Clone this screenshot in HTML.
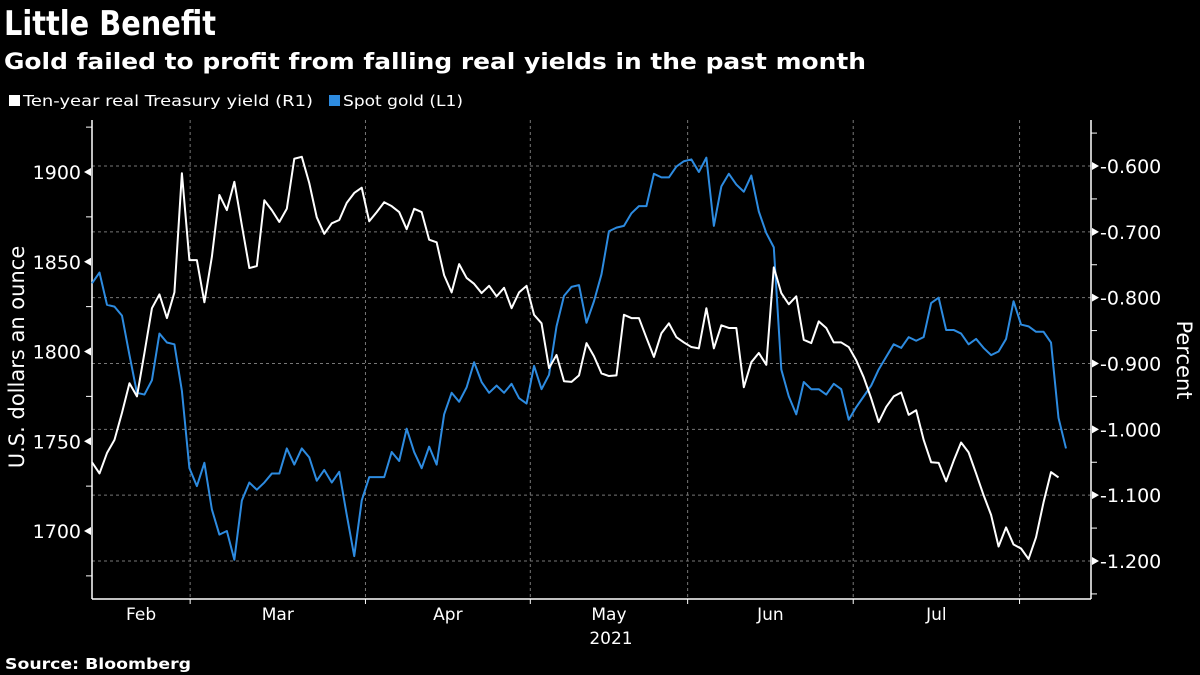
<!DOCTYPE html>
<html><head><meta charset="utf-8"><style>
html,body{margin:0;padding:0;background:#000;}
svg{display:block;font-family:"DejaVu Sans","Liberation Sans",sans-serif;}
</style></head><body>
<svg id="chart" width="1200" height="675" viewBox="0 0 1200 675">
<rect width="1200" height="675" fill="#000"/>
<text x="4" y="35" fill="#fff" font-weight="bold" font-size="34" textLength="212" lengthAdjust="spacingAndGlyphs">Little Benefit</text>
<text x="4" y="69" fill="#fff" font-weight="bold" font-size="22" textLength="862" lengthAdjust="spacingAndGlyphs">Gold failed to profit from falling real yields in the past month</text>
<g>
<g><rect x="9" y="95" width="11" height="11" fill="#fff"/><text x="23" y="106" fill="#fff" font-size="15" textLength="290" lengthAdjust="spacingAndGlyphs">Ten-year real Treasury yield (R1)</text></g>
<g><rect x="329" y="95" width="11" height="11" fill="#2d8be0"/><text x="343" y="106" fill="#fff" font-size="15" textLength="120" lengthAdjust="spacingAndGlyphs">Spot gold (L1)</text></g>
</g>
<g id="grid"></g>
<g id="axes"></g>
<g id="series"></g>
<text transform="translate(24,357) rotate(-90)" text-anchor="middle" fill="#fff" font-size="21">U.S. dollars an ounce</text>
<text transform="translate(1177,360) rotate(90)" text-anchor="middle" fill="#fff" font-size="21">Percent</text>
<text x="611" y="644" text-anchor="middle" fill="#fff" font-size="17">2021</text>
<text x="5" y="669" fill="#fff" font-weight="bold" font-size="15" textLength="186" lengthAdjust="spacingAndGlyphs">Source: Bloomberg</text>
</svg>
<script>
const goldValues=[1838,1844,1826,1825,1820,1798,1777,1776,1784,1810,1805,1804,1778,1735,1725,1738,1712,1698,1700,1684,1717,1727,1723,1727,1732,1732,1746,1737,1746,1741,1728,1734,1727,1733,1709,1686,1717,1730,1730,1730,1744,1739,1757,1744,1735,1747,1737,1765,1777,1772,1780,1794,1783,1777,1781,1777,1782,1774,1771,1792,1779,1787,1814,1831,1836,1837,1816,1828,1843,1867,1869,1870,1877,1881,1881,1899,1897,1897,1903,1906,1907,1900,1908,1870,1892,1899,1893,1889,1898,1878,1866,1858,1790,1775,1765,1783,1779,1779,1776,1782,1779,1762,1769,1775,1781,1790,1797,1804,1802,1808,1806,1808,1827,1830,1812,1812,1810,1804,1807,1802,1798,1800,1807,1828,1815,1814,1811,1811,1805,1763,1746];
const yieldValues=[-1.050,-1.067,-1.036,-1.016,-0.975,-0.930,-0.950,-0.884,-0.816,-0.795,-0.831,-0.792,-0.611,-0.743,-0.743,-0.807,-0.738,-0.644,-0.667,-0.624,-0.690,-0.755,-0.752,-0.652,-0.667,-0.685,-0.665,-0.589,-0.586,-0.626,-0.678,-0.703,-0.687,-0.682,-0.656,-0.641,-0.633,-0.684,-0.670,-0.655,-0.661,-0.670,-0.696,-0.665,-0.670,-0.712,-0.716,-0.766,-0.792,-0.749,-0.770,-0.779,-0.793,-0.782,-0.798,-0.785,-0.816,-0.792,-0.782,-0.826,-0.839,-0.907,-0.887,-0.927,-0.928,-0.918,-0.869,-0.889,-0.915,-0.919,-0.918,-0.826,-0.831,-0.831,-0.861,-0.890,-0.854,-0.839,-0.860,-0.868,-0.875,-0.877,-0.816,-0.877,-0.842,-0.846,-0.846,-0.936,-0.898,-0.884,-0.902,-0.754,-0.793,-0.810,-0.798,-0.864,-0.869,-0.836,-0.846,-0.868,-0.868,-0.875,-0.895,-0.921,-0.953,-0.989,-0.966,-0.950,-0.944,-0.978,-0.971,-1.016,-1.050,-1.051,-1.079,-1.048,-1.020,-1.035,-1.067,-1.100,-1.130,-1.178,-1.149,-1.175,-1.181,-1.197,-1.164,-1.111,-1.065,-1.073];
const leftTicks=[1700,1750,1800,1850,1900];
const rightTicks=[-1.2,-1.1,-1.0,-0.9,-0.8,-0.7,-0.6];
const monthLabels=["Feb","Mar","Apr","May","Jun","Jul"];
const monthBoundaryIdx=[-13,13.1,36.5,58.5,79.5,101.6,123.8];

const NS="http://www.w3.org/2000/svg";
const X0=92,X1=1066,YT=120,YB=599;
const nPts=goldValues.length;
function xS(i){return X0+i*(X1-X0)/(nPts-1);}
function yL(v){return 172+(1900-v)*(531-172)/200;}
function yR(v){return 166+(-0.6-v)*(561-166)/0.6;}
function mk(tag,attrs,parent){const e=document.createElementNS(NS,tag);for(const k in attrs)e.setAttribute(k,attrs[k]);parent.appendChild(e);return e;}
const grid=document.getElementById('grid'),axes=document.getElementById('axes'),series=document.getElementById('series');
rightTicks.forEach(v=>{
  const l=mk('line',{x1:X0,x2:1091,y1:yR(v),y2:yR(v),stroke:'#777','stroke-width':1,'stroke-dasharray':'3,3'},grid);
  
  
  const t=mk('text',{x:1100,y:yR(v)+7,fill:'#fff','font-size':19},axes);
  t.textContent=v.toFixed(3);
  
  
  mk('path',{d:`M1092 ${yR(v)-4}L1099 ${yR(v)}L1092 ${yR(v)+4}Z`,fill:'#fff'},axes);
  mk('line',{x1:1091,x2:1097,y1:yR(v+0.05),y2:yR(v+0.05),stroke:'#fff'},axes);
});
mk('line',{x1:1091,x2:1097,y1:yR(-1.25),y2:yR(-1.25),stroke:'#fff'},axes);
for(let m=1;m<monthBoundaryIdx.length;m++){
  const x=xS(monthBoundaryIdx[m]);
  const g=mk('line',{x1:x,x2:x,y1:YT,y2:YB,stroke:'#777','stroke-width':1,'stroke-dasharray':'3,3'},grid);
  
  
  mk('line',{x1:x,x2:x,y1:YB,y2:YB+5,stroke:'#fff'},axes);
}
monthLabels.forEach((lab,m)=>{
  const a=Math.max(X0,xS(monthBoundaryIdx[m])),b=xS(monthBoundaryIdx[m+1]);
  const t=mk('text',{x:(a+b)/2,y:620,'text-anchor':'middle',fill:'#fff','font-size':17},axes);
  t.textContent=lab;
  
  
});
leftTicks.forEach(v=>{
  const t=mk('text',{x:81,y:yL(v)+7,'text-anchor':'end',fill:'#fff','font-size':19},axes);
  t.textContent=v;
  
  
  mk('path',{d:`M91 ${yL(v)-4}L84 ${yL(v)}L91 ${yL(v)+4}Z`,fill:'#fff'},axes);
  mk('line',{x1:86,x2:92,y1:yL(v+25),y2:yL(v+25),stroke:'#fff'},axes);
});
mk('line',{x1:86,x2:92,y1:yL(1675),y2:yL(1675),stroke:'#fff'},axes);
mk('line',{x1:92,x2:92,y1:YT,y2:YB,stroke:'#fff','stroke-width':1.5},axes);
mk('line',{x1:1091,x2:1091,y1:YT,y2:YB,stroke:'#fff','stroke-width':1.5},axes);
mk('line',{x1:92,x2:1091,y1:YB,y2:YB,stroke:'#fff','stroke-width':1.5},axes);
const gp=mk('polyline',{points:goldValues.map((v,i)=>xS(i)+','+yL(v)).join(' '),fill:'none',stroke:'#2d8be0','stroke-width':2,'stroke-linejoin':'round'},series);


const yp=mk('polyline',{points:yieldValues.map((v,i)=>xS(i)+','+yR(v)).join(' '),fill:'none',stroke:'#fff','stroke-width':2,'stroke-linejoin':'round'},series);


</script>
</body></html>
